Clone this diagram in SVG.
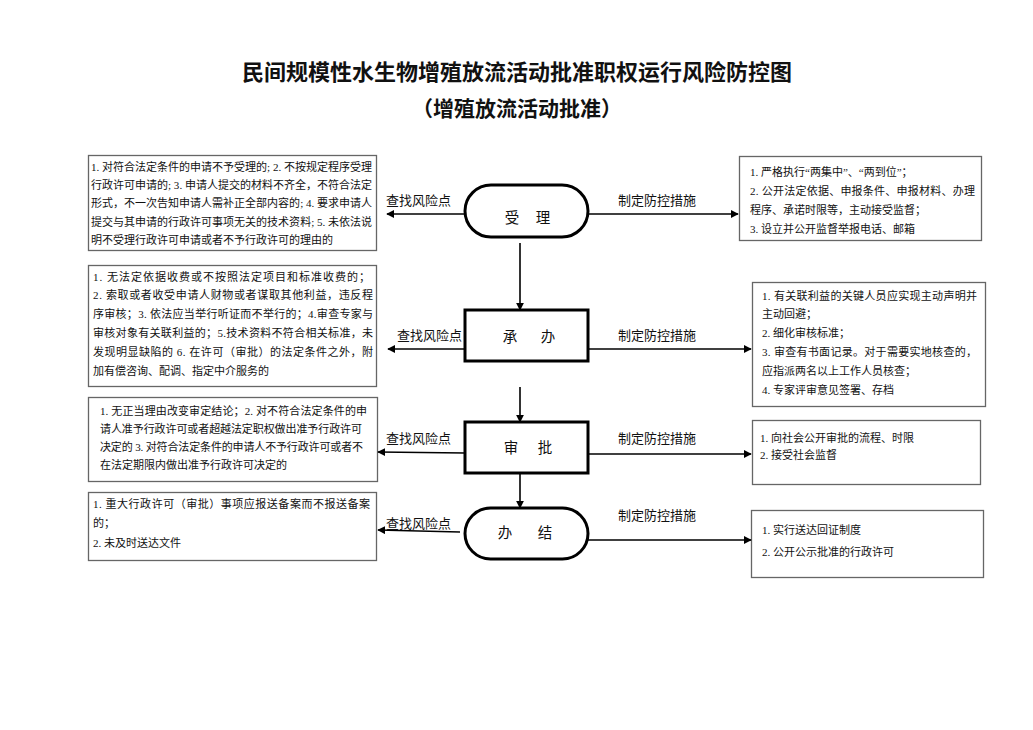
<svg xmlns="http://www.w3.org/2000/svg" width="1033" height="730" viewBox="0 0 1033 730">
<style>
.t{font-family:"Liberation Serif","Noto Sans CJK SC",serif;fill:#111}
.title{font-size:22px;font-weight:bold}
.sub{font-size:21px;font-weight:bold}
.bx{font-size:11px}
.lb{font-size:13px}
.nd{font-size:14.5px;text-anchor:middle}
.box{fill:#fff;stroke:#666;stroke-width:1.3}
.node{fill:#fff;stroke:#000;stroke-width:3}
.c{stroke:#000;stroke-width:1.6;fill:none;marker-end:url(#ah)}
</style>
<defs>
<marker id="ah" viewBox="0 0 10 10" refX="9" refY="5" markerWidth="8" markerHeight="8" markerUnits="userSpaceOnUse" orient="auto">
<path d="M0,0 L10,5 L0,10 z" fill="#000"/>
</marker>
</defs>
<rect width="1033" height="730" fill="#fff"/>
<text class="t title" x="517" y="80" text-anchor="middle">民间规模性水生物增殖放流活动批准职权运行风险防控图</text>
<text class="t sub" x="517" y="116" text-anchor="middle">（增殖放流活动批准）</text>

<g id="risk1">
<rect class="box" x="88.5" y="155.5" width="288" height="95"/>
<text class="t bx"><tspan x="91" y="171" textLength="281" lengthAdjust="spacing">1. 对符合法定条件的申请不予受理的; 2. 不按规定程序受理</tspan><tspan x="91" y="189" textLength="281" lengthAdjust="spacing">行政许可申请的; 3. 申请人提交的材料不齐全，不符合法定</tspan><tspan x="91" y="207" textLength="281" lengthAdjust="spacing">形式，不一次告知申请人需补正全部内容的; 4. 要求申请人</tspan><tspan x="91" y="226" textLength="281" lengthAdjust="spacing">提交与其申请的行政许可事项无关的技术资料; 5. 未依法说</tspan><tspan x="91" y="244">明不受理行政许可申请或者不予行政许可的理由的</tspan></text>
</g>
<g id="risk2">
<rect class="box" x="88.5" y="265.5" width="288" height="121"/>
<text class="t bx"><tspan x="93" y="281" textLength="277" lengthAdjust="spacing">1. 无法定依据收费或不按照法定项目和标准收费的；</tspan><tspan x="93" y="299" textLength="280" lengthAdjust="spacing">2. 索取或者收受申请人财物或者谋取其他利益，违反程</tspan><tspan x="93" y="318" textLength="280" lengthAdjust="spacing">序审核；3. 依法应当举行听证而不举行的；4.审查专家与</tspan><tspan x="93" y="337" textLength="280" lengthAdjust="spacing">审核对象有关联利益的；5.技术资料不符合相关标准，未</tspan><tspan x="93" y="356" textLength="280" lengthAdjust="spacing">发现明显缺陷的 6. 在许可（审批）的法定条件之外，附</tspan><tspan x="93" y="375">加有偿咨询、配调、指定中介服务的</tspan></text>
</g>
<g id="risk3">
<rect class="box" x="88.5" y="397.5" width="289" height="84"/>
<text class="t bx"><tspan x="100" y="415" textLength="267" lengthAdjust="spacing">1. 无正当理由改变审定结论；2. 对不符合法定条件的申</tspan><tspan x="100" y="433" textLength="262" lengthAdjust="spacing">请人准予行政许可或者超越法定职权做出准予行政许可</tspan><tspan x="100" y="451" textLength="263" lengthAdjust="spacing">决定的 3. 对符合法定条件的申请人不予行政许可或者不</tspan><tspan x="100" y="469">在法定期限内做出准予行政许可决定的</tspan></text>
</g>
<g id="risk4">
<rect class="box" x="88.5" y="492.5" width="288" height="68"/>
<text class="t bx"><tspan x="93" y="508" textLength="277" lengthAdjust="spacing">1. 重大行政许可（审批）事项应报送备案而不报送备案</tspan><tspan x="93" y="527">的；</tspan><tspan x="93" y="547">2. 未及时送达文件</tspan></text>
</g>

<g id="ctrl1">
<rect class="box" x="739.5" y="156.5" width="242" height="84"/>
<text class="t bx"><tspan x="750" y="176">1. 严格执行“两集中”、“两到位”；</tspan><tspan x="750" y="195" textLength="225" lengthAdjust="spacing">2. 公开法定依据、申报条件、申报材料、办理</tspan><tspan x="750" y="214">程序、承诺时限等，主动接受监督；</tspan><tspan x="750" y="233">3. 设立并公开监督举报电话、邮箱</tspan></text>
</g>
<g id="ctrl2">
<rect class="box" x="752.5" y="282.5" width="233" height="124"/>
<text class="t bx"><tspan x="762" y="300" textLength="215" lengthAdjust="spacing">1. 有关联利益的关键人员应实现主动声明并</tspan><tspan x="762" y="318">主动回避；</tspan><tspan x="762" y="337">2. 细化审核标准；</tspan><tspan x="762" y="356" textLength="215" lengthAdjust="spacing">3. 审查有书面记录。对于需要实地核查的，</tspan><tspan x="762" y="375">应指派两名以上工作人员核查；</tspan><tspan x="762" y="394">4. 专家评审意见签署、存档</tspan></text>
</g>
<g id="ctrl3">
<rect class="box" x="752.5" y="420.5" width="228" height="64"/>
<text class="t bx"><tspan x="760" y="442">1. 向社会公开审批的流程、时限</tspan><tspan x="760" y="459">2. 接受社会监督</tspan></text>
</g>
<g id="ctrl4">
<rect class="box" x="751.5" y="510.5" width="232" height="67"/>
<text class="t bx"><tspan x="762" y="534">1. 实行送达回证制度</tspan><tspan x="762" y="556">2. 公开公示批准的行政许可</tspan></text>
</g>

<g id="connectors">
<path class="c" d="M465,214 L387,214"/>
<path class="c" d="M588,214 L738,214"/>
<path class="c" d="M520,243 L520,310"/>
<path class="c" d="M465,349 L388,349"/>
<path class="c" d="M588,349 L751,349"/>
<path class="c" d="M520,387 L520,422"/>
<path class="c" d="M465,453 L378,452"/>
<path class="c" d="M588,454 L751,454"/>
<path class="c" d="M520,473 L520,508"/>
<path class="c" d="M460,532 L378,530"/>
<path class="c" d="M588,540 L751,540"/>
<text class="t lb" x="386" y="205">查找风险点</text>
<text class="t lb" x="618" y="205">制定防控措施</text>
<text class="t lb" x="397" y="340">查找风险点</text>
<text class="t lb" x="618" y="340">制定防控措施</text>
<text class="t lb" x="386" y="443">查找风险点</text>
<text class="t lb" x="618" y="443">制定防控措施</text>
<text class="t lb" x="386" y="528">查找风险点</text>
<text class="t lb" x="618" y="520">制定防控措施</text>
</g>

<g id="n-accept">
<rect class="node" x="465" y="185" width="123" height="52" rx="26"/>
<text class="t nd" x="512 543" y="223">受理</text>
</g>
<g id="n-handle">
<rect class="node" x="465" y="310" width="123" height="51"/>
<text class="t nd" x="510 548" y="342">承办</text>
</g>
<g id="n-approve">
<rect class="node" x="465" y="422" width="123" height="51"/>
<text class="t nd" x="511 545" y="453">审批</text>
</g>
<g id="n-finish">
<rect class="node" x="465" y="508" width="123" height="51" rx="25.5"/>
<text class="t nd" x="505 545" y="538">办结</text>
</g>
</svg>
